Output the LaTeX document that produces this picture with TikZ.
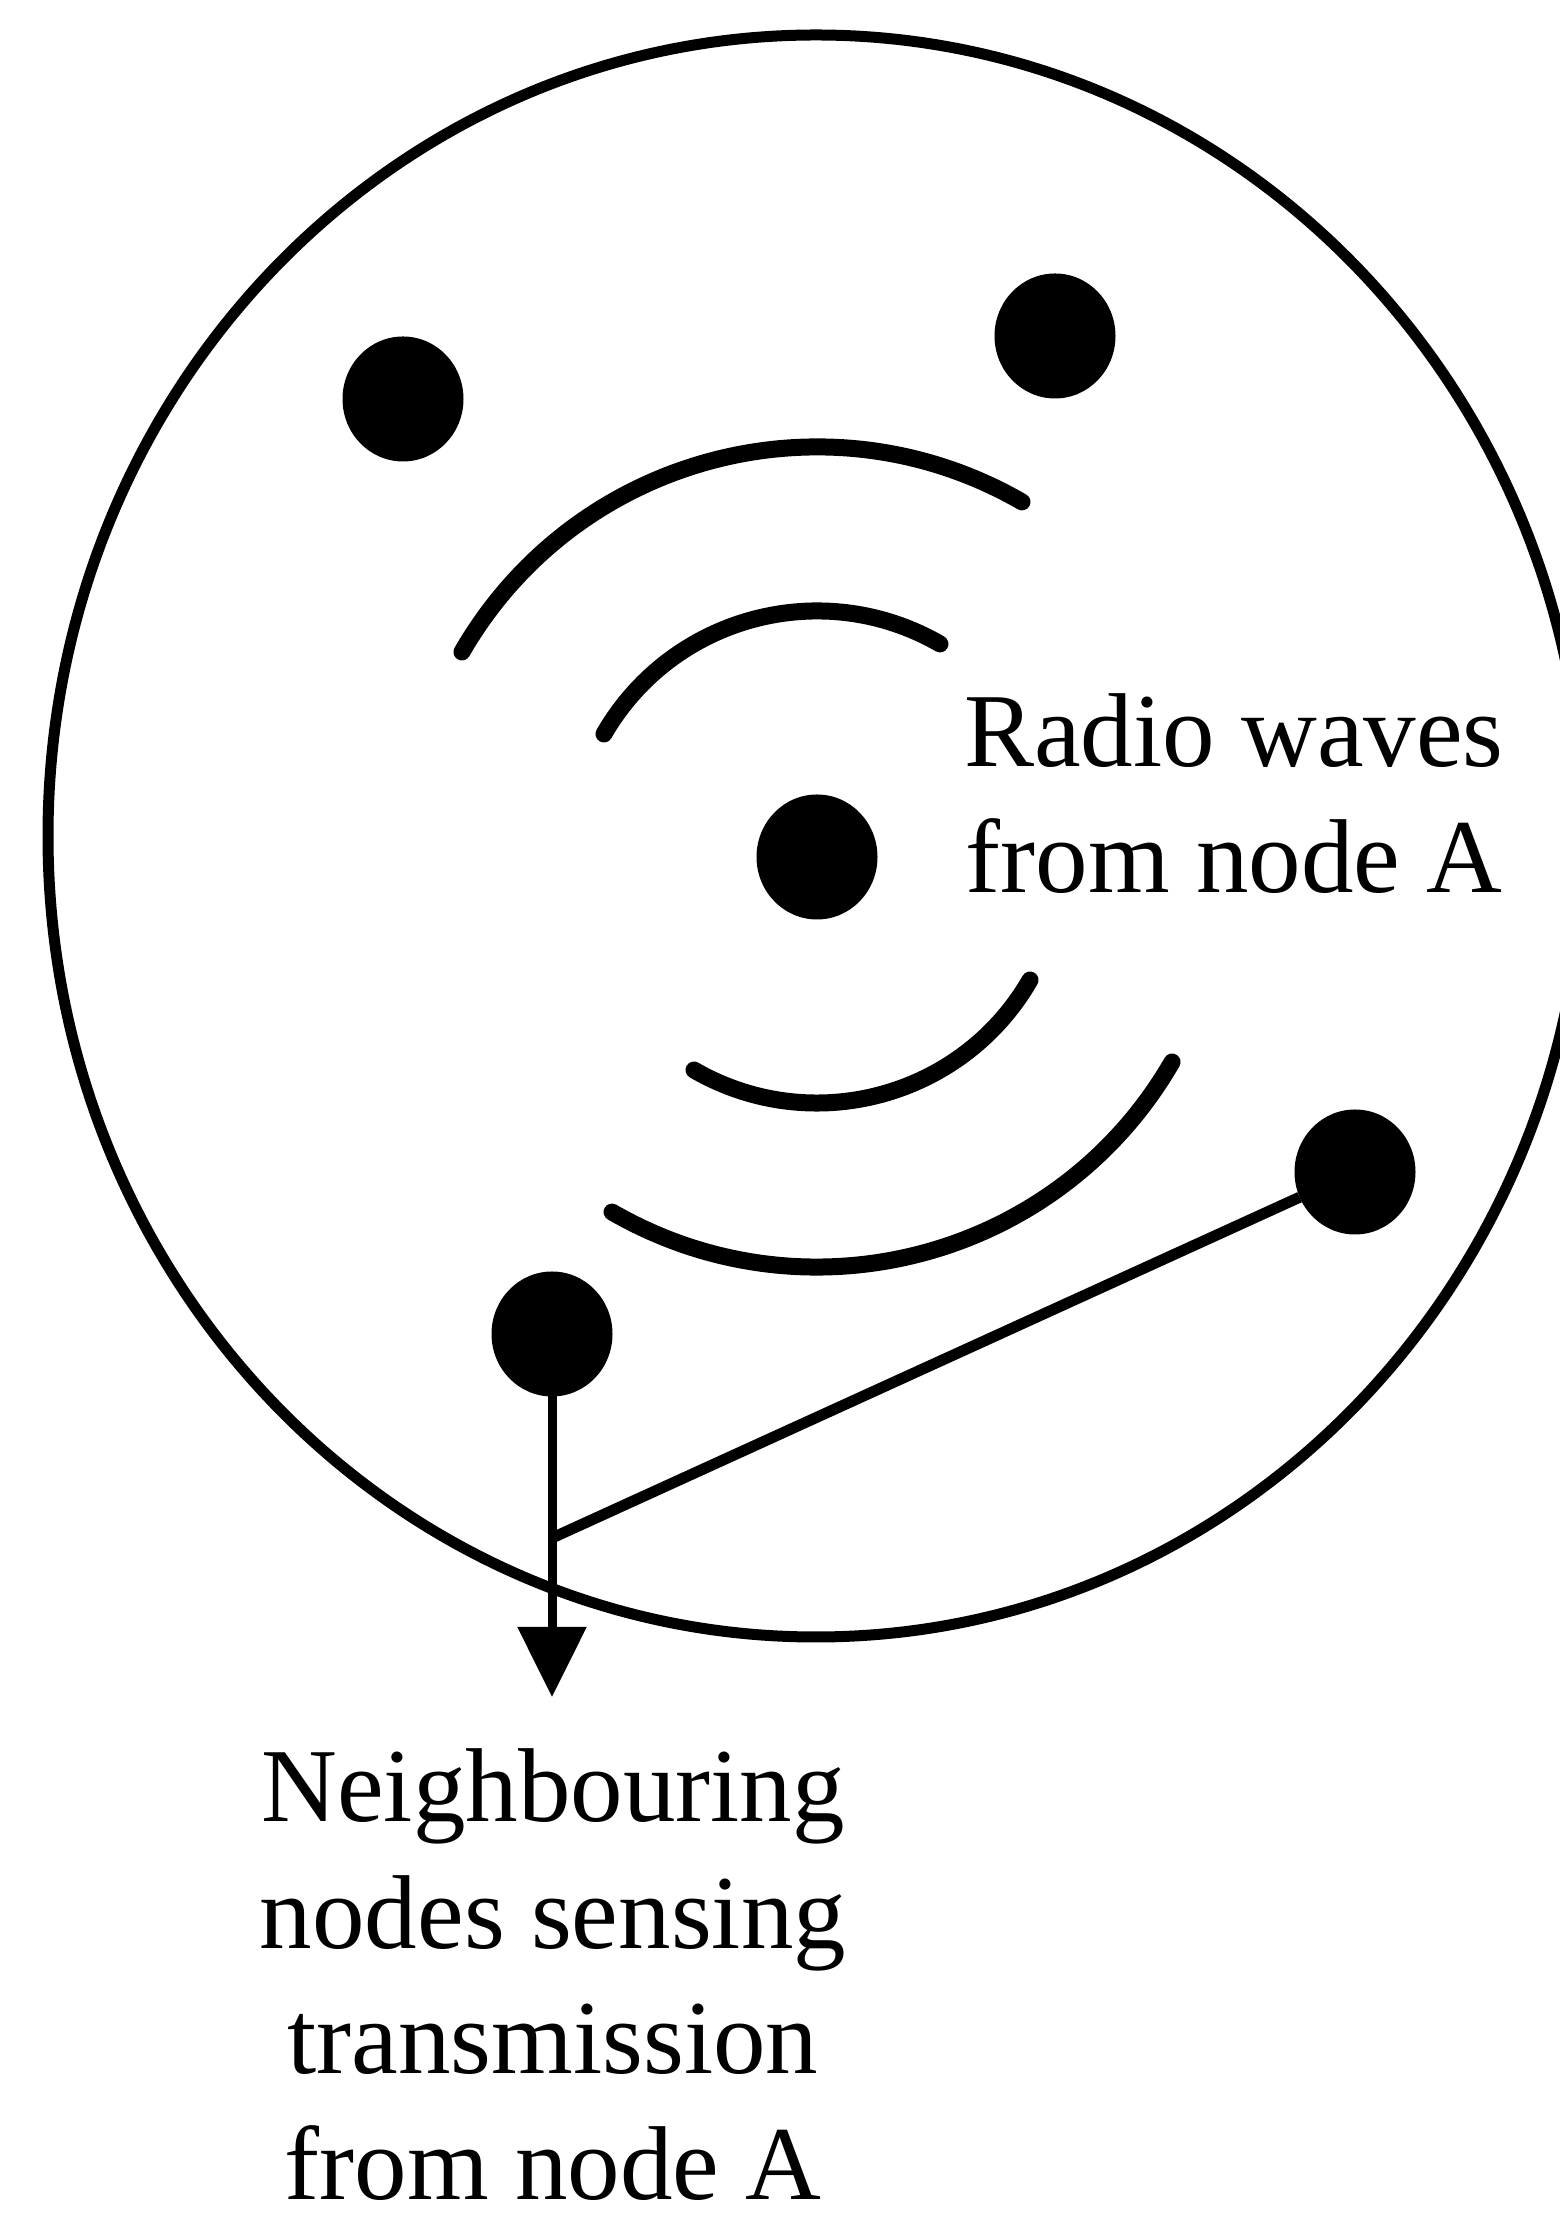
\documentclass[tikz,border=0pt]{standalone}
\usepackage{fontspec}
\setmainfont{Liberation Serif}
\usetikzlibrary{arrows.meta,shapes.geometric}
\begin{document}
\begin{tikzpicture}[x=1pt,y=1pt,
  dot/.style={ellipse,fill=black,draw=none,minimum width=121pt,minimum height=125pt,inner sep=0pt,outer sep=0pt},
  rim/.style={ellipse,draw,line width=11pt,minimum width=1536pt,minimum height=1602pt,inner sep=0pt},
  wave/.style={line width=17pt,line cap=round},
  link/.style={line width=11pt},
  feed/.style={line width=9pt,-{Triangle[width=67pt,length=70pt]}},
  lbl/.style={font=\fontsize{105}{126}\selectfont,align=center,inner sep=0pt}]
\useasboundingbox (0,0) rectangle (1559,2220);
\node[rim] (range) at (816,1384) {};
\node[dot] (n1) at (403,1821) {};
\node[dot] (n2) at (1055,1884) {};
\node[dot] (A) at (817,1363) {};
\node[dot] (R) at (1355,1048) {};
\node[dot] (B) at (552,886) {};
\coordinate (J) at (552,682);
\coordinate (T) at (552,523);
\draw[wave] ([shift={(60:246)}]A.center) arc[start angle=60,end angle=150,radius=246];
\draw[wave] ([shift={(60:410)}]A.center) arc[start angle=60,end angle=150,radius=410];
\draw[wave] ([shift={(240:246)}]A.center) arc[start angle=240,end angle=330,radius=246];
\draw[wave] ([shift={(240:410)}]A.center) arc[start angle=240,end angle=330,radius=410];
\draw[link] (R) -- (J);
\draw[feed] (B) -- (T);
\node[lbl,anchor=base] (radio) at (1234,1327) {Radio waves\\from node A};
\node[lbl,anchor=base] (sense) at (553,20) {Neighbouring\\nodes sensing\\transmission\\from node A};
\end{tikzpicture}
\end{document}
